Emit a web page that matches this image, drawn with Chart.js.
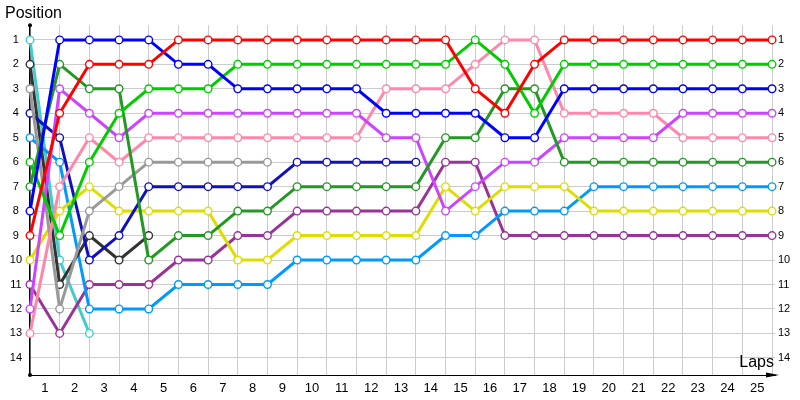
<!DOCTYPE html>
<html>
<head>
<meta charset="utf-8">
<title>Lap chart</title>
<script src="https://cdn.jsdelivr.net/npm/chart.js@4.4.1/dist/chart.umd.min.js"></script>
<style>
  body { margin: 0; background: #fff; }
  #wrap { width: 800px; height: 400px; }
</style>
</head>
<body>
<div id="wrap"><canvas id="lapChart"></canvas></div>
<script>
// lap 0 is the starting grid
const laps = [0, 1, 2, 3, 4, 5, 6, 7, 8, 9, 10, 11, 12, 13, 14, 15, 16, 17, 18, 19, 20, 21, 22, 23, 24, 25];
const lapLabels = ['1', '2', '3', '4', '5', '6', '7', '8', '9', '10', '11', '12', '13',
  '14', '15', '16', '17', '18', '19', '20', '21', '22', '23', '24', '25'];
const positionLabels = [1, 2, 3, 4, 5, 6, 7, 8, 9, 10, 11, 12, 13, 14];

const red      = [9, 4, 2, 2, 2, 1, 1, 1, 1, 1, 1, 1, 1, 1, 1, 3, 4, 2, 1, 1, 1, 1, 1, 1, 1, 1];
const blue     = [8, 1, 1, 1, 1, 2, 2, 3, 3, 3, 3, 3, 4, 4, 4, 4, 5, 5, 3, 3, 3, 3, 3, 3, 3, 3];
const lime     = [6, 9, 6, 4, 3, 3, 3, 2, 2, 2, 2, 2, 2, 2, 2, 1, 2, 4, 2, 2, 2, 2, 2, 2, 2, 2];
const darkGreen = [7, 2, 3, 3, 10, 9, 9, 8, 8, 7, 7, 7, 7, 7, 5, 5, 3, 3, 6, 6, 6, 6, 6, 6, 6, 6];
const violet   = [12, 3, 4, 5, 4, 4, 4, 4, 4, 4, 4, 4, 5, 5, 8, 7, 6, 6, 5, 5, 5, 5, 4, 4, 4, 4];
const pink     = [13, 7, 5, 6, 5, 5, 5, 5, 5, 5, 5, 5, 3, 3, 3, 2, 1, 1, 4, 4, 4, 4, 5, 5, 5, 5];
const gray     = [3, 12, 8, 7, 6, 6, 6, 6, 6];
const navy     = [4, 5, 10, 9, 7, 7, 7, 7, 7, 6, 6, 6, 6, 6];
const yellow   = [10, 8, 7, 8, 8, 8, 8, 10, 10, 9, 9, 9, 9, 9, 7, 8, 7, 7, 7, 8, 8, 8, 8, 8, 8, 8];
const black    = [2, 11, 9, 10, 9];
const lightBlue = [5, 6, 12, 12, 12, 11, 11, 11, 11, 10, 10, 10, 10, 10, 9, 9, 8, 8, 8, 7, 7, 7, 7, 7, 7, 7];
const plum     = [11, 13, 11, 11, 11, 10, 10, 9, 9, 8, 8, 8, 8, 8, 6, 6, 9, 9, 9, 9, 9, 9, 9, 9, 9, 9];
const cyan     = [1, 10, 13];

const series = [red, blue, lime, darkGreen, violet, pink, gray, navy, yellow, black, lightBlue, plum, cyan];
const colors = ['#ff0000', '#0000ff', '#00cc00', '#229922', '#cc44ff', '#ff88aa', '#999999',
  '#1111bb', '#dddd00', '#333333', '#0099ff', '#993399', '#44cccc'];

const axisExtras = {
  id: 'axisExtras',
  afterDraw(chart) {
    const { ctx, chartArea: a } = chart;
    ctx.save();
    ctx.fillStyle = '#000';
    [[a.left, a.top], [a.left, a.bottom]].forEach(([x, y]) => {
      ctx.beginPath();
      ctx.arc(x, y, 2, 0, Math.PI * 2);
      ctx.fill();
    });
    ctx.beginPath();
    ctx.moveTo(a.right + 4, a.bottom);
    ctx.lineTo(a.right - 9, a.bottom - 2.5);
    ctx.lineTo(a.right - 9, a.bottom + 2.5);
    ctx.closePath();
    ctx.fill();
    ctx.font = '16px "Liberation Sans"';
    ctx.textAlign = 'right';
    ctx.textBaseline = 'alphabetic';
    ctx.fillText('Laps', a.right - 1, a.bottom - 8);
    ctx.restore();
  }
};

const chartData = {
  labels: laps,
  datasets: series.map((s, i) => ({
    data: s,
    borderColor: colors[i],
    borderWidth: 3,
    pointRadius: 3.8,
    pointBorderWidth: 1.4,
    pointBackgroundColor: '#fff',
    pointBorderColor: colors[i],
    tension: 0,
    clip: false
  }))
};

const chartOptions = {
  responsive: true,
  maintainAspectRatio: false,
  animation: false,
  layout: { padding: { left: 5, right: 0, top: 0, bottom: 0 } },
  plugins: {
    legend: { display: false },
    tooltip: { enabled: false },
    title: {
      display: true,
      text: 'Position',
      align: 'start',
      color: '#000',
      font: { family: '"Liberation Sans"', size: 16, weight: 'normal' },
      padding: { top: 4, bottom: 2 }
    }
  },
  scales: {
    x: {
      type: 'linear',
      min: 0,
      max: 25.1,
      afterBuildTicks: scale => { scale.ticks = lapLabels.map((l, i) => ({ value: i + 0.5 })); },
      afterFit: scale => { scale.height = 25; },
      grid: { offset: true, color: '#cccccc', drawTicks: false },
      border: { display: true, color: '#000', width: 1 },
      ticks: {
        autoSkip: false,
        maxRotation: 0,
        padding: 6,
        color: '#000',
        font: { family: '"Liberation Sans"', size: 13 },
        callback: (v, i) => lapLabels[i]
      }
    },
    y: {
      type: 'linear',
      reverse: true,
      min: 0.4,
      max: 14.7,
      afterBuildTicks: scale => { scale.ticks = positionLabels.map(p => ({ value: p })); },
      afterFit: scale => { scale.width = 25; },
      grid: { color: '#cccccc', drawTicks: false },
      border: { display: true, color: '#000', width: 1.5 },
      ticks: {
        crossAlign: 'center',
        padding: 8,
        color: '#000',
        font: { family: '"Liberation Sans"', size: 11 }
      }
    },
    y2: {
      type: 'linear',
      position: 'right',
      reverse: true,
      min: 0.4,
      max: 14.7,
      afterBuildTicks: scale => { scale.ticks = positionLabels.map(p => ({ value: p })); },
      afterFit: scale => { scale.width = 25; },
      grid: { display: false, drawTicks: false },
      border: { display: false },
      ticks: {
        padding: 3,
        color: '#000',
        font: { family: '"Liberation Sans"', size: 11 }
      }
    }
  }
};

new Chart(document.getElementById('lapChart'), {
  type: 'line',
  data: chartData,
  options: chartOptions,
  plugins: [axisExtras]
});
</script>
</body>
</html>
